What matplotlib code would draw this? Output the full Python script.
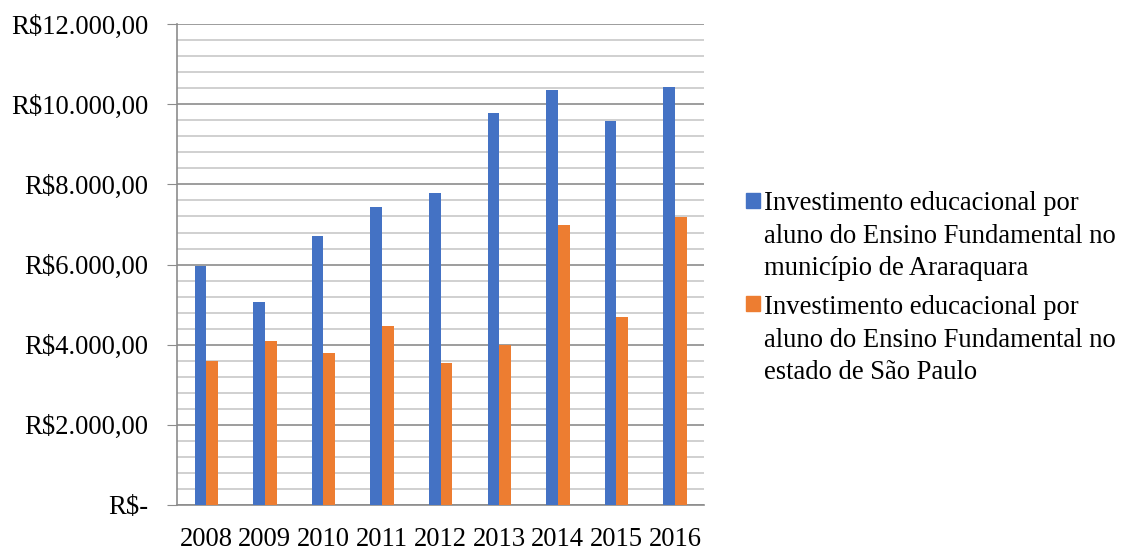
import numpy as np
import matplotlib.pyplot as plt
import matplotlib.patches as mpatches

plt.rcParams['font.family'] = ['Liberation Serif', 'DejaVu Serif']

# dados
anos = ["2008", "2009", "2010", "2011", "2012", "2013", "2014", "2015", "2016"]
araraquara = [5960, 5060, 6710, 7430, 7780, 9780, 10350, 9580, 10420]
sao_paulo = [3590, 4090, 3790, 4460, 3540, 3990, 6980, 4690, 7180]
legendas = ["Investimento educacional por\naluno do Ensino Fundamental no\nmunicípio de Araraquara",
            "Investimento educacional por\naluno do Ensino Fundamental no\nestado de São Paulo"]
yticks = [0, 2000, 4000, 6000, 8000, 10000, 12000]
ylabels = ["R$-", "R$2.000,00", "R$4.000,00", "R$6.000,00", "R$8.000,00", "R$10.000,00", "R$12.000,00"]

azul = "#4472C4"
laranja = "#ED7D31"

fig = plt.figure(figsize=(11.27, 5.5), dpi=100)
ax = fig.add_axes([0.157, 0.082, 0.468, 0.874])

x = np.arange(len(anos))
w = 0.2
ax.bar(x - w/2, araraquara, w, color=azul, zorder=3)
ax.bar(x + w/2, sao_paulo, w, color=laranja, zorder=3)

ax.set_xlim(-0.5, len(anos) - 0.5)
ax.set_ylim(0, 12000)
ax.set_yticks(yticks)
ax.set_yticklabels(ylabels, fontsize=19.2)
ax.set_yticks(np.arange(0, 12001, 400), minor=True)
ax.set_xticks(x)
ax.set_xticklabels(anos, fontsize=19.2)

ax.grid(axis='y', which='major', color='#8c8c8c', linewidth=1.2, zorder=0)
ax.grid(axis='y', which='minor', color='#c8c8c8', linewidth=1.2, zorder=0)
ax.tick_params(axis='y', which='major', length=7, color='#8c8c8c', pad=13.5)
ax.tick_params(axis='y', which='minor', length=0)
ax.tick_params(axis='x', length=0, pad=16)

for s in ['top', 'right']:
    ax.spines[s].set_visible(False)
ax.spines['left'].set_color('#8c8c8c')
ax.spines['bottom'].set_color('#8c8c8c')
ax.spines['left'].set_linewidth(1.2)
ax.spines['bottom'].set_linewidth(1.2)

# legenda
cores = [azul, laranja]
quad_y = [0.622, 0.4345]
texto_y = [0.652, 0.463]
for cor, txt, yq, yt in zip(cores, legendas, quad_y, texto_y):
    fig.patches.append(mpatches.Rectangle((0.662, yq), 0.0124, 0.0273,
                                          transform=fig.transFigure, color=cor))
    fig.text(0.678, yt, txt, fontsize=19.2, va='top', ha='left', linespacing=1.38)

fig.savefig("out.png", dpi=100)
